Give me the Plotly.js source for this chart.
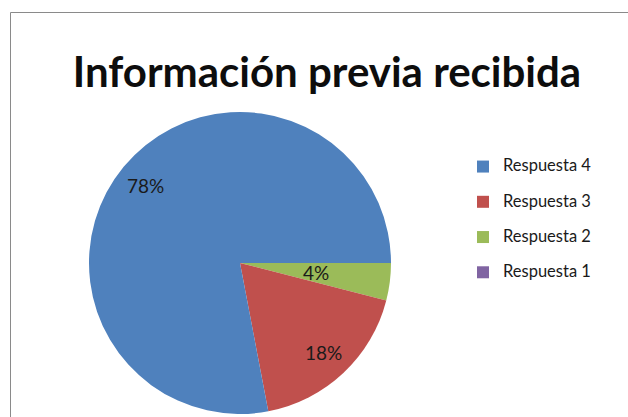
<!DOCTYPE html>
<html>
<head>
<meta charset="utf-8">
<script src="https://cdn.plot.ly/plotly-3.0.1.min.js"></script>
<style>html,body{margin:0;padding:0;background:#fff;}#chart{width:628px;height:417px;}</style>
</head>
<body>
<div id="chart"></div>
<script>
var chartTitle = 'Información previa recibida';
var labels = ['Respuesta 1', 'Respuesta 2', 'Respuesta 3', 'Respuesta 4'];
var values = [0, 4, 18, 78];
var colors = ['#8064A2', '#9BBB59', '#C0504D', '#4F81BD'];

var W = 628, H = 417;
var cx = 240, cy = 263, R = 151;
var START_DEG = 90;           // first slice starts at 3 o'clock, clockwise
var LABEL_R_BIG = 0.81, LABEL_R_SMALL = 0.51;

var total = values.reduce(function (a, b) { return a + b; }, 0);

var legendLabels = labels.map(function (l) {
  return '<span style="font-size:16.5px">' + l + '</span><br> ';
});

var trace = {
  type: 'pie',
  labels: legendLabels,
  values: values,
  sort: false,
  direction: 'clockwise',
  rotation: START_DEG,
  marker: { colors: colors, line: { width: 0 } },
  textinfo: 'none',
  hoverinfo: 'label+percent',
  domain: { x: [(cx - R) / W, (cx + R) / W], y: [1 - (cy + R) / H, 1 - (cy - R) / H] },
  showlegend: true
};

// data labels placed at each slice's mid-angle (Excel-style)
var annotations = [];
var cum = 0;
values.forEach(function (v) {
  var share = v / total;
  var mid = START_DEG + (cum + share / 2) * 360;
  cum += share;
  if (v <= 0) return;
  var rr = (share < 0.1 ? LABEL_R_SMALL : LABEL_R_BIG) * R;
  var a = mid * Math.PI / 180;
  annotations.push({
    xref: 'paper', yref: 'paper',
    x: (cx + rr * Math.sin(a)) / W,
    y: 1 - (cy - rr * Math.cos(a)) / H,
    text: Math.round(share * 100) + '%',
    showarrow: false,
    xanchor: 'center', yanchor: 'middle',
    font: { family: 'Lato, sans-serif', size: 19, color: '#1a1a1a' }
  });
});

var layout = {
  width: W, height: H,
  margin: { l: 0, r: 0, t: 0, b: 0 },
  paper_bgcolor: '#ffffff',
  title: {
    text: '<b>' + chartTitle + '</b>',
    font: { family: 'Lato, sans-serif', size: 42, color: '#0d0d0d' },
    x: 327 / W, xanchor: 'center',
    y: 1 - 87 / H, yanchor: 'bottom', yref: 'container'
  },
  legend: {
    x: 463 / W, xanchor: 'left',
    y: 1 - 152 / H, yanchor: 'top',
    traceorder: 'reversed',
    valign: 'top',
    font: { family: 'Lato, sans-serif', size: 12.4, color: '#1a1a1a' },
    bgcolor: 'rgba(0,0,0,0)'
  },
  annotations: annotations,
  shapes: [{
    type: 'rect', xref: 'paper', yref: 'paper',
    x0: 10.5 / W, x1: (W + 20) / W, y0: -20 / H, y1: 1 - 12.5 / H,
    line: { color: '#8a8a8a', width: 1 }, fillcolor: 'rgba(0,0,0,0)', layer: 'below'
  }]
};

Plotly.newPlot('chart', [trace], layout, { displayModeBar: false, staticPlot: true });
</script>
</body>
</html>
